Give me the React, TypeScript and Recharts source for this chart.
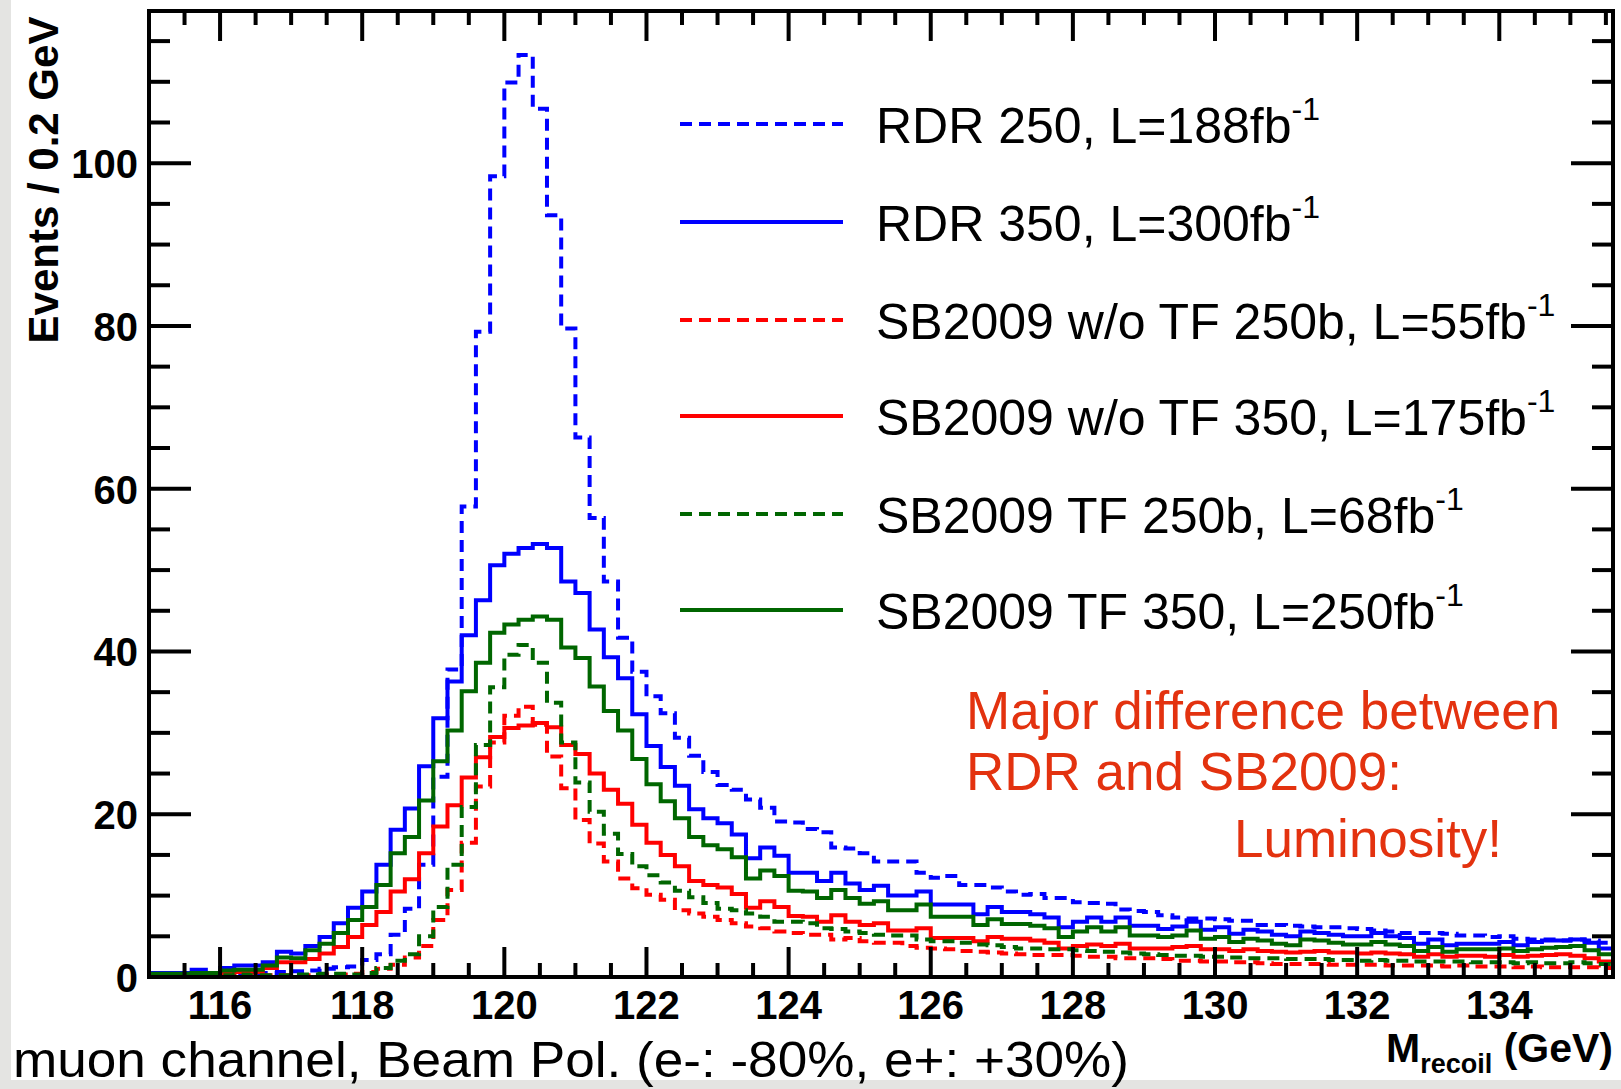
import React from 'react';
import { LineChart, Line, XAxis, YAxis } from 'recharts';

// Histogram binning (GeV)
const BIN_START = 115;
const BIN_WIDTH = 0.2;
const X_MIN = 115;
const X_MAX = 135.6;
const Y_MIN = 0;
const Y_MAX = 118.7;

// Bin contents (Events / 0.2 GeV), 103 bins from 115.0 to 135.6 GeV
const rdr250 = [
  0.2, 0.3, 0.2, 0.3, 0.2, 0.4, 0.3, 0.3, 0.5, 0.6,
  0.7, 0.8, 1.0, 1.2, 1.3, 2.1, 2.8, 5.2, 8.4, 13.8,
  24.6, 37.8, 57.8, 79.3, 98.4, 109.9, 113.3, 106.7, 93.6, 79.7,
  66.3, 56.4, 48.6, 41.7, 37.5, 34.5, 32.4, 29.4, 27.2, 25.2,
  23.6, 23.0, 21.8, 20.8, 19.1, 19.0, 18.2, 17.8, 15.9, 15.8,
  15.2, 14.2, 14.2, 14.2, 12.8, 12.2, 12.4, 11.3, 11.3, 11.0,
  10.5, 10.1, 10.2, 9.7, 9.7, 9.2, 9.1, 9.0, 8.3, 8.1,
  8.0, 7.6, 7.3, 7.2, 7.2, 7.1, 6.9, 6.9, 6.4, 6.4,
  6.3, 6.2, 6.1, 6.1, 6.0, 5.9, 5.7, 5.6, 5.4, 5.4,
  5.4, 5.3, 5.1, 5.1, 4.9, 5.0, 4.7, 4.6, 4.6, 4.5,
  4.6, 4.5, 4.2,
];
const rdr350 = [
  0.5, 0.5, 0.5, 0.9, 0.5, 1.1, 1.4, 1.4, 1.8, 3.1,
  2.9, 3.8, 4.9, 6.6, 8.5, 10.5, 13.8, 18.1, 20.7, 25.9,
  31.8, 36.3, 42.0, 46.3, 50.6, 52.0, 52.7, 53.2, 52.7, 48.6,
  47.2, 42.7, 39.3, 36.7, 32.3, 28.4, 25.8, 23.5, 20.6, 19.5,
  18.9, 17.5, 14.6, 15.9, 14.9, 12.8, 12.8, 11.8, 12.8, 11.5,
  10.7, 11.2, 10.0, 10.0, 10.5, 8.9, 8.9, 8.9, 7.7, 8.6,
  8.0, 8.0, 7.7, 7.3, 6.1, 6.8, 7.3, 6.8, 7.3, 6.3,
  6.3, 5.9, 6.2, 6.8, 5.8, 6.1, 5.3, 5.8, 5.6, 5.2,
  5.0, 5.6, 5.4, 5.2, 5.0, 5.0, 5.4, 5.0, 4.8, 4.1,
  4.6, 3.9, 4.1, 4.1, 4.1, 4.3, 3.9, 4.3, 4.5, 4.5,
  4.6, 4.2, 3.5,
];
const woTf250 = [
  0.1, 0.1, 0.1, 0.1, 0.1, 0.1, 0.2, 0.1, 0.2, 0.2,
  0.2, 0.2, 0.3, 0.3, 0.4, 0.6, 1.0, 1.5, 2.4, 3.8,
  7.0, 10.7, 16.5, 23.4, 28.8, 32.1, 33.2, 31.0, 27.1, 23.2,
  19.3, 16.4, 14.2, 12.1, 10.9, 10.1, 9.5, 8.2, 7.8, 7.4,
  7.0, 6.6, 6.2, 6.0, 5.6, 5.4, 5.2, 5.2, 4.6, 4.8,
  4.4, 4.2, 4.2, 3.8, 3.6, 3.5, 3.4, 3.2, 3.1, 3.0,
  2.9, 2.8, 2.7, 2.7, 2.7, 2.6, 2.5, 2.5, 2.3, 2.3,
  2.3, 2.2, 2.0, 2.0, 1.9, 1.9, 1.8, 1.8, 1.7, 1.6,
  1.6, 1.6, 1.6, 1.5, 1.5, 1.5, 1.5, 1.4, 1.4, 1.4,
  1.4, 1.3, 1.4, 1.3, 1.3, 1.3, 1.2, 1.3, 1.2, 1.2,
  1.2, 1.2, 1.1,
];
const woTf350 = [
  0.3, 0.3, 0.3, 0.3, 0.3, 0.4, 0.6, 0.6, 1.1, 1.8,
  1.8, 2.2, 2.9, 3.7, 4.9, 6.4, 8.0, 10.5, 12.0, 15.2,
  18.5, 21.1, 24.5, 27.0, 29.5, 30.6, 30.9, 31.2, 30.7, 28.5,
  27.4, 25.0, 23.0, 21.3, 18.7, 16.5, 15.0, 13.6, 11.8, 11.3,
  11.0, 10.2, 8.5, 9.3, 8.6, 7.5, 7.4, 6.8, 7.6, 6.8,
  6.4, 6.6, 5.7, 5.7, 6.0, 4.8, 4.8, 4.8, 4.4, 4.9,
  4.7, 4.7, 4.5, 4.2, 3.5, 3.8, 4.0, 3.8, 4.1, 3.5,
  3.5, 3.5, 3.7, 3.8, 3.4, 3.4, 3.2, 3.4, 3.2, 3.1,
  3.0, 3.1, 3.2, 3.0, 3.0, 2.9, 3.0, 2.9, 2.8, 2.5,
  2.8, 2.5, 2.6, 2.6, 2.5, 2.7, 2.5, 2.6, 2.7, 2.8,
  2.6, 2.3, 1.9,
];
const tf250 = [
  0.2, 0.2, 0.1, 0.2, 0.2, 0.2, 0.3, 0.2, 0.2, 0.2,
  0.3, 0.3, 0.4, 0.4, 0.3, 0.5, 1.1, 2.0, 2.8, 5.0,
  8.6, 13.8, 20.9, 28.5, 35.6, 39.6, 40.8, 38.6, 33.7, 28.8,
  23.9, 20.3, 17.6, 15.1, 13.6, 12.5, 11.6, 10.6, 9.8, 9.1,
  8.4, 8.2, 7.8, 7.4, 6.8, 6.8, 6.6, 6.0, 5.9, 5.6,
  5.4, 5.2, 5.1, 5.1, 4.6, 4.4, 4.4, 4.2, 4.0, 3.9,
  3.7, 3.5, 3.5, 3.4, 3.4, 3.3, 3.2, 3.1, 3.0, 2.9,
  2.8, 2.7, 2.6, 2.6, 2.5, 2.5, 2.4, 2.3, 2.3, 2.3,
  2.2, 2.2, 2.2, 2.1, 2.1, 2.0, 2.1, 2.0, 2.0, 1.9,
  1.9, 1.9, 1.9, 1.8, 1.8, 1.8, 1.7, 1.8, 1.7, 1.7,
  1.8, 1.7, 1.6,
];
const tf350 = [
  0.4, 0.4, 0.4, 0.5, 0.5, 0.8, 0.9, 0.9, 1.4, 2.4,
  2.3, 3.3, 4.1, 5.4, 7.0, 8.6, 11.3, 15.2, 17.2, 21.7,
  26.5, 30.3, 35.1, 38.6, 42.3, 43.3, 43.9, 44.3, 43.9, 40.5,
  39.2, 35.7, 32.7, 30.3, 26.8, 23.7, 21.6, 19.5, 17.2, 16.2,
  15.7, 14.7, 12.1, 13.1, 12.4, 10.6, 10.5, 9.7, 10.7, 9.7,
  9.0, 9.3, 8.2, 8.2, 8.9, 7.4, 7.4, 7.4, 6.4, 7.1,
  6.5, 6.5, 6.3, 6.0, 4.9, 5.6, 6.1, 5.6, 6.1, 5.1,
  5.1, 4.9, 5.1, 5.7, 4.7, 4.9, 4.3, 4.7, 4.5, 4.1,
  3.9, 4.6, 4.5, 4.2, 4.0, 4.0, 4.3, 4.0, 3.8, 3.2,
  3.7, 3.1, 3.4, 3.4, 3.4, 3.5, 3.2, 3.4, 3.6, 3.7,
  3.8, 3.3, 2.8,
];

// Tick values / labels
const xMajorLabels = [116, 118, 120, 122, 124, 126, 128, 130, 132, 134];
const xMinorStep = 0.5;
const yMajorLabels = [0, 20, 40, 60, 80, 100];
const yMinorStep = 5;

const xTicks: number[] = [];
for (let v = X_MIN + xMinorStep; v < X_MAX; v += xMinorStep) xTicks.push(Math.round(v * 10) / 10);
const yTicks: number[] = [];
for (let v = Y_MIN; v < Y_MAX; v += yMinorStep) yTicks.push(v);

const DASH = '12 7';
const series = [
  { key: 'rdr250', label: 'RDR 250, L=188fb', sup: '-1', color: '#0000ff', dash: DASH, values: rdr250 },
  { key: 'rdr350', label: 'RDR 350, L=300fb', sup: '-1', color: '#0000ff', dash: undefined, values: rdr350 },
  { key: 'woTf250', label: 'SB2009 w/o TF 250b, L=55fb', sup: '-1', color: '#ff0000', dash: DASH, values: woTf250 },
  { key: 'woTf350', label: 'SB2009 w/o TF 350, L=175fb', sup: '-1', color: '#ff0000', dash: undefined, values: woTf350 },
  { key: 'tf250', label: 'SB2009 TF 250b, L=68fb', sup: '-1', color: '#006600', dash: DASH, values: tf250 },
  { key: 'tf350', label: 'SB2009 TF 350, L=250fb', sup: '-1', color: '#006600', dash: undefined, values: tf350 },
];

const annotationLines = ['Major difference between', 'RDR and SB2009:', 'Luminosity!'];
const yTitle = 'Events / 0.2 GeV';
const xTitleMain = 'M';
const xTitleSub = 'recoil';
const xTitleUnit = ' (GeV)';
const caption = 'muon channel, Beam Pol. (e-: -80%, e+: +30%)';

// Build step-histogram rows (bin low edges + closing edge)
const nBins = rdr250.length;
const data: any[] = [];
for (let k = 0; k <= nBins; k++) {
  const row: any = { x: Math.round((BIN_START + BIN_WIDTH * k) * 10) / 10 };
  const idx = Math.min(k, nBins - 1);
  series.forEach((s) => { row[s.key] = s.values[idx]; });
  data.push(row);
}

const FONT = '"Liberation Sans", Arial, Helvetica, sans-serif';
const W = 1621;
const H = 1089;

const isMajorX = (v: number) => xMajorLabels.some((m) => Math.abs(m - v) < 1e-6);
const isMajorY = (v: number) => v % 20 === 0;

const XTick = (props: any) => {
  const { x, y, payload, side } = props;
  const v = payload.value;
  const major = isMajorX(v);
  const len = major ? 30 : 14;
  const dir = side === 'bottom' ? -1 : 1;
  return (
    <g>
      <line x1={x} x2={x} y1={y} y2={y + dir * len} stroke="#000" strokeWidth={4} />
      {side === 'bottom' && major && (
        <text x={x} y={y + 42} textAnchor="middle" fontFamily={FONT} fontWeight="bold" fontSize={40} fill="#000">
          {v}
        </text>
      )}
    </g>
  );
};

const YTick = (props: any) => {
  const { x, y, payload, side } = props;
  const v = payload.value;
  const major = isMajorY(v);
  const len = major ? 42 : 21;
  const dir = side === 'left' ? 1 : -1;
  return (
    <g>
      <line x1={x} x2={x + dir * len} y1={y} y2={y} stroke="#000" strokeWidth={4} />
      {side === 'left' && yMajorLabels.includes(v) && (
        <text x={x - 11} y={y + 15} textAnchor="end" fontFamily={FONT} fontWeight="bold" fontSize={40} fill="#000">
          {v}
        </text>
      )}
    </g>
  );
};

const axisLineStyle = { stroke: '#000', strokeWidth: 4, strokeLinecap: 'square' as const };

const legendRowsY = [124, 222, 320, 416, 514, 610];

export default function App() {
  return (
    <div style={{ position: 'absolute', left: 0, top: 0, width: W, height: H, background: '#e4e4e2', overflow: 'hidden' }}>
      <div style={{ position: 'absolute', left: 11, top: 0, width: W - 11, height: 1080, background: '#ffffff' }} />
      <div style={{ position: 'absolute', left: 0, top: 0 }}>
        <LineChart width={W} height={H} data={data} margin={{ top: 10, right: 7, bottom: 52, left: 49 }}>
          <XAxis
            xAxisId="bottom"
            dataKey="x"
            type="number"
            orientation="bottom"
            domain={[X_MIN, X_MAX]}
            allowDataOverflow
            ticks={xTicks}
            interval={0}
            height={60}
            tickSize={0}
            tickMargin={0}
            tickLine={false}
            axisLine={axisLineStyle}
            tick={(p: any) => <XTick {...p} side="bottom" />}
          />
          <XAxis
            xAxisId="top"
            dataKey="x"
            type="number"
            orientation="top"
            domain={[X_MIN, X_MAX]}
            allowDataOverflow
            ticks={xTicks}
            interval={0}
            height={1}
            tickSize={0}
            tickMargin={0}
            tickLine={false}
            axisLine={axisLineStyle}
            tick={(p: any) => <XTick {...p} side="top" />}
          />
          <YAxis
            yAxisId="left"
            type="number"
            orientation="left"
            domain={[Y_MIN, Y_MAX]}
            allowDataOverflow
            ticks={yTicks}
            interval={0}
            width={100}
            tickSize={0}
            tickMargin={0}
            tickLine={false}
            axisLine={axisLineStyle}
            tick={(p: any) => <YTick {...p} side="left" />}
          />
          <YAxis
            yAxisId="right"
            type="number"
            orientation="right"
            domain={[Y_MIN, Y_MAX]}
            allowDataOverflow
            ticks={yTicks}
            interval={0}
            width={1}
            tickSize={0}
            tickMargin={0}
            tickLine={false}
            axisLine={axisLineStyle}
            tick={(p: any) => <YTick {...p} side="right" />}
          />
          {series.map((s) => (
            <Line
              key={s.key}
              xAxisId="bottom"
              yAxisId="left"
              dataKey={s.key}
              type="stepAfter"
              stroke={s.color}
              strokeWidth={4}
              strokeDasharray={s.dash}
              strokeLinecap="butt"
              dot={false}
              activeDot={false}
              isAnimationActive={false}
            />
          ))}
        </LineChart>
      </div>
      <svg width={W} height={H} style={{ position: 'absolute', left: 0, top: 0, pointerEvents: 'none' }}>
        {/* Legend */}
        {series.map((s, i) => (
          <g key={s.key}>
            <line x1={680} x2={843} y1={legendRowsY[i]} y2={legendRowsY[i]} stroke={s.color} strokeWidth={4} strokeDasharray={s.dash} />
            <text x={876} y={legendRowsY[i] + 19} fontFamily={FONT} fontSize={50} fill="#000">
              {s.label}
              <tspan fontSize={32} dy={-23}>{s.sup}</tspan>
            </text>
          </g>
        ))}
        {/* Annotation */}
        <text x={966} y={729} fontFamily={FONT} fontSize={53} fill="#e3320f">{annotationLines[0]}</text>
        <text x={966} y={790} fontFamily={FONT} fontSize={53} fill="#e3320f">{annotationLines[1]}</text>
        <text x={1234} y={857} fontFamily={FONT} fontSize={53} fill="#e3320f">{annotationLines[2]}</text>
        {/* Y title */}
        <text
          transform="translate(58,180) rotate(-90)"
          x={0}
          y={0}
          textAnchor="middle"
          fontFamily={FONT}
          fontWeight="bold"
          fontSize={42}
          fill="#000"
        >
          {yTitle}
        </text>
        {/* X title */}
        <text x={1613} y={1062} textAnchor="end" fontFamily={FONT} fontWeight="bold" fontSize={41} fill="#000">
          {xTitleMain}
          <tspan fontSize={27} dy={11}>{xTitleSub}</tspan>
          <tspan dy={-11}>{xTitleUnit}</tspan>
        </text>
        {/* Caption */}
        <text x={13} y={1077} fontFamily={FONT} fontSize={50} fill="#000" textLength={1116} lengthAdjust="spacingAndGlyphs">
          {caption}
        </text>
      </svg>
    </div>
  );
}
